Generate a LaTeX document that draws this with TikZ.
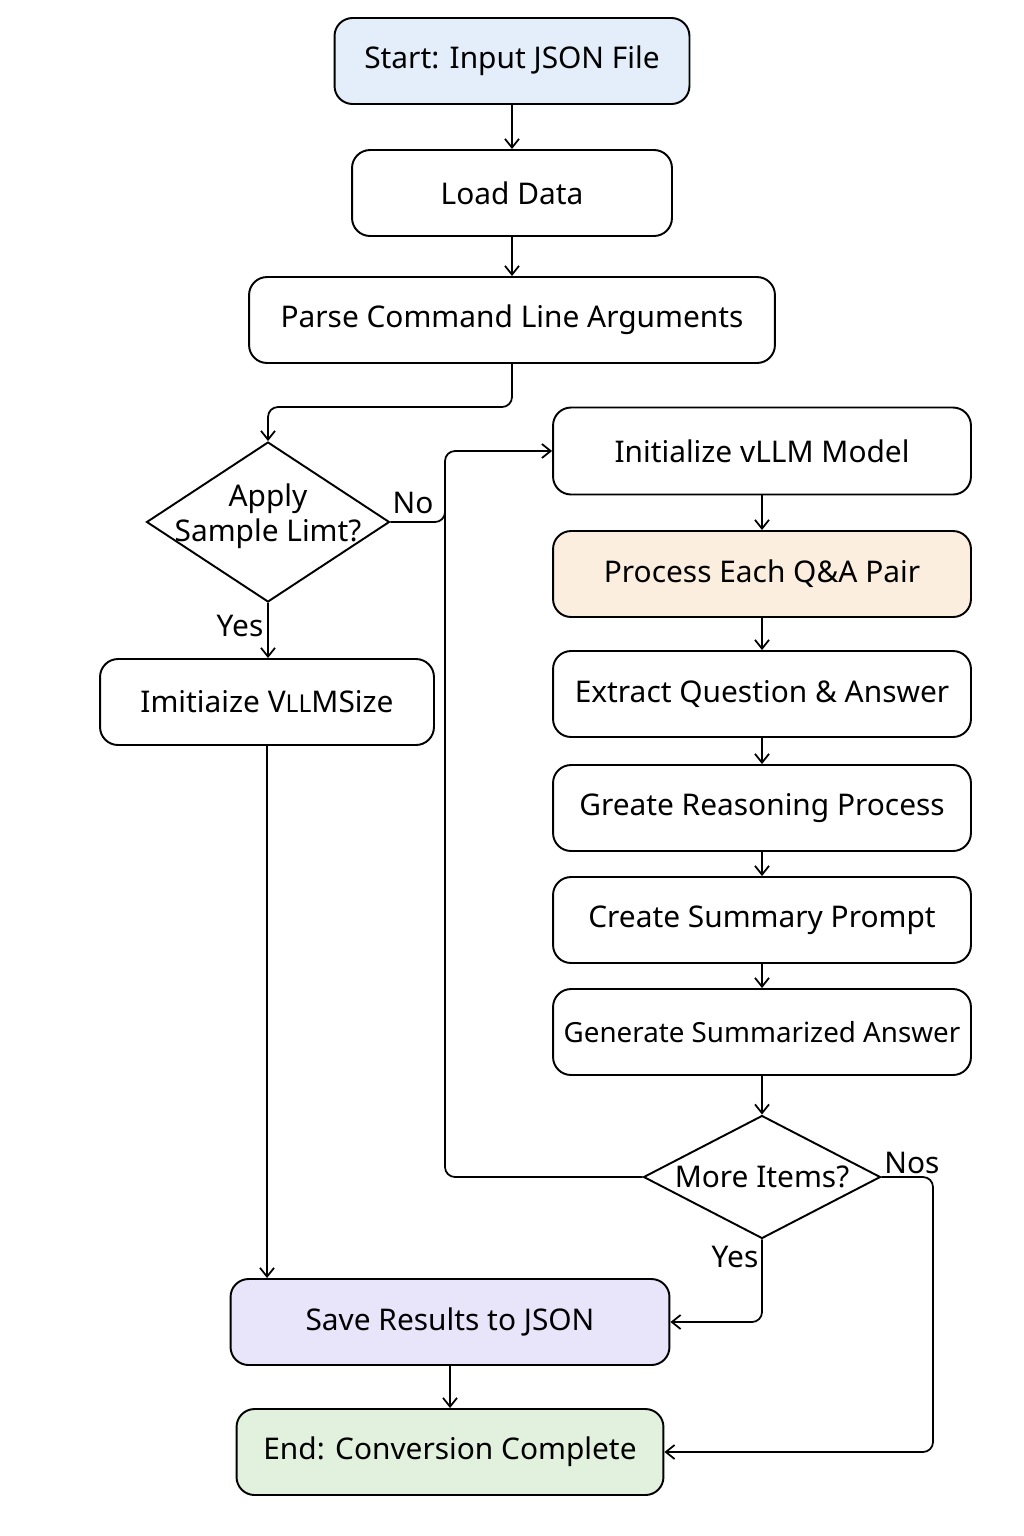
\documentclass[tikz,border=0pt]{standalone}
\usepackage{fontspec}
\setmainfont{Noto Sans}
\usepackage{tikz}
\usepackage{xcolor}
\usetikzlibrary{arrows.meta}
\usetikzlibrary{shapes}

\definecolor{startblau}{HTML}{E3EEFA}
\definecolor{schrittorange}{HTML}{FBEEDF}
\definecolor{speicherlila}{HTML}{E8E5FB}
\definecolor{endgruen}{HTML}{E2F1DE}

\tikzset{
  box/.style={draw, rounded corners=0.36cm, line width=1.1pt, minimum height=1.72cm, inner sep=0pt, font=\fontsize{17}{20}\selectfont},
  raute/.style={draw, diamond, line width=1.1pt, inner sep=0pt},
  pfeil/.style={-{Straight Barb[length=5pt,width=8pt]}, line width=1pt, rounded corners=0.2cm},
  linie/.style={line width=1pt, rounded corners=0.2cm},
  marke/.style={font=\fontsize{17}{20}\selectfont}
}

\begin{document}
\begin{tikzpicture}[x=0.02cm, y=-0.02cm]
\useasboundingbox (0,0) rectangle (1024,1536);
% Obere Kette:
\node[box, fill=startblau, minimum width=7.1cm] (start) at (512,61) {Start: Input JSON File};
\node[box, minimum width=6.4cm] (load) at (512,193) {Load Data};
\node[box, minimum width=10.52cm] (parse) at (512,320) {Parse Command Line Arguments};
% Linke Spalte:
\node[raute, minimum width=4.86cm, minimum height=3.2cm,
  label={[marke, align=center, yshift=0.12cm]center:Apply\\Sample Limt?}] (apply) at (268,522) {};
\node[box, minimum width=6.68cm] (imit) at (267,702) {Imitiaize V{\fontsize{14}{16}\selectfont LL}MSize};
% Rechte Spalte:
\node[box, minimum width=8.36cm, minimum height=1.74cm] (init) at (762,451) {Initialize vLLM Model};
\node[box, fill=schrittorange, minimum width=8.36cm] (process) at (762,574) {Process Each Q\&A Pair};
\node[box, minimum width=8.36cm] (extract) at (762,694) {Extract Question \& Answer};
\node[box, minimum width=8.36cm] (reason) at (762,808) {Greate Reasoning Process};
\node[box, minimum width=8.36cm] (prompt) at (762,920) {Create Summary Prompt};
\node[box, minimum width=8.36cm, font=\fontsize{15.8}{19}\selectfont] (summary) at (762,1032) {Generate Summarized Answer};
\node[raute, minimum width=4.74cm, minimum height=2.46cm,
  label={[marke]center:More Items?}] (more) at (762,1177) {};
% Untere Kette:
\node[box, fill=speicherlila, minimum width=8.78cm] (save) at (450,1322) {Save Results to JSON};
\node[box, fill=endgruen, minimum width=8.54cm] (end) at (450,1452) {End: Conversion Complete};
% Beschriftungen:
\node[marke] (no) at (413,503) {No};
\node[marke] (yesa) at (240,626) {Yes};
\node[marke] (yesb) at (735,1257) {Yes};
\node[marke] (nos) at (912,1163) {Nos};
% Gerade Pfeile:
\draw[pfeil] (start) -- (load);
\draw[pfeil] (load) -- (parse);
\draw[pfeil] (parse.south) -- (512,407) -| (apply.north);
\draw[pfeil] (apply.south) -- (apply.south |- imit.north);
\draw[pfeil] (imit.south) -- (imit.south |- save.north);
\draw[pfeil] (init) -- (process);
\draw[pfeil] (process) -- (extract);
\draw[pfeil] (extract) -- (reason);
\draw[pfeil] (reason) -- (prompt);
\draw[pfeil] (prompt) -- (summary);
\draw[pfeil] (summary) -- (more);
\draw[pfeil] (save) -- (end);
% Verzweigungen mit Ecken:
\draw[pfeil] (more.west) -- (445,1177) |- (init.west);
\draw[linie] (apply.east) -- (445,522) -- (445,490);
\draw[pfeil] (more.south) |- (save.east);
\draw[pfeil] (more.east) -- (933,1177) |- (end.east);
\end{tikzpicture}
\end{document}
